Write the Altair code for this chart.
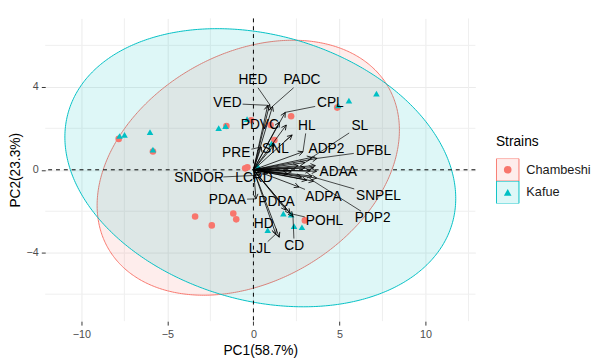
import math
import numpy as np
import pandas as pd
import altair as alt

# ---------------- data ----------------
strains = ["Chambeshi", "Kafue"]

chambeshi_pc1 = [-7.83, -5.84, -1.57, -0.14, 1.00, 2.19, 1.22, -0.48, -0.35, 4.87, -3.39, -2.42, -1.17, -1.00, 2.99]
chambeshi_pc2 = [1.49, 0.88, 2.11, 2.39, 2.16, 2.58, 1.44, 0.07, 0.12, 3.00, -2.25, -2.68, -2.11, -2.39, -2.44]

kafue_pc1 = [-7.78, -7.49, -6.01, -5.84, -2.02, -1.62, -0.37, 1.05, 0.26, 4.93, 5.55, 7.15, 0.83, 1.74, 2.19, 2.36, 2.82]
kafue_pc2 = [1.63, 1.68, 1.82, 0.97, 2.01, 2.11, 2.44, 1.26, 0.17, 3.10, 3.34, 3.67, -2.91, -2.11, -2.16, -2.72, -2.77]

variables = ["HED", "PADC", "VED", "CPL", "PDVC", "HL", "SL", "PRE", "SNL", "ADP2", "DFBL", "ADAA",
             "SNDOR", "LCRD", "ADPA", "SNPEL", "PDAA", "PDPA", "PDP2", "POHL", "HD", "CD", "LJL"]
load_pc1 = [0.94, 1.11, 0.83, 1.85, 1.51, 2.88, 3.40, 0.45, 2.25, 3.00, 3.70, 3.67,
            0.37, 0.83, 2.65, 3.68, 0.15, 1.90, 3.50, 2.14, 1.50, 2.30, 1.30]
load_pc2 = [3.15, 3.06, 3.11, 2.77, 2.30, 0.87, 0.60, 1.10, 1.68, 0.35, 0.55, -0.07,
            -0.26, -0.17, -0.83, -0.40, -1.40, -1.95, -0.55, -2.11, -3.25, -2.25, -3.10]
label_pc1 = [-0.03, 2.82, -1.51, 4.47, 0.37, 3.10, 6.18, -1.00, 1.28, 4.24, 6.98, 4.93,
             -3.16, 0.03, 4.07, 7.27, -1.51, 1.34, 6.93, 4.13, 0.60, 2.37, 0.37]
label_pc2 = [4.31, 4.31, 3.20, 3.20, 2.18, 2.11, 2.11, 0.83, 1.00, 1.00, 0.92, -0.12,
             -0.40, -0.40, -1.30, -1.26, -1.45, -1.54, -2.35, -2.49, -2.63, -3.67, -3.82]

# further loadings crowded in the central bundle (labels hidden in the overlap)
bundle_pc1 = [1.91, 2.60, 3.00, 3.30, 3.50, 3.40, 2.80, 2.20, 3.10, 2.00, 3.60, 1.20]
bundle_pc2 = [2.16, 0.20, 0.10, -0.05, 0.10, -0.30, -0.35, -0.10, -0.50, -0.20, 0.20, 1.20]

# concentration ellipses (centre, semi-axes, rotation in degrees)
ell_cx = [-0.30, 0.40]
ell_cy = [0.10, 0.10]
ell_a = [9.10, 11.50]
ell_b = [5.67, 6.46]
ell_rot = [19.5, -10.9]

x_major = [-10, -5, 0, 5, 10]
x_minor = [-7.5, -2.5, 2.5, 7.5, 12.5]
y_major = [-4, 0, 4]
y_minor = [-6, -2, 2, 6]

# ---------------- layout ----------------
W, H = 439, 309
XDOM = [-12.1, 12.9]
YDOM = [-7.3, 7.3]
kx = W / (XDOM[1] - XDOM[0])
ky = H / (YDOM[1] - YDOM[0])
FONT = "Liberation Sans"
RED, CYAN = "#F8766D", "#00BFC4"

xs = alt.Scale(domain=XDOM, nice=False, zero=False)
ys = alt.Scale(domain=YDOM, nice=False, zero=False)

axis_common = dict(grid=True, gridColor="#EBEBEB", gridWidth=1, domain=False, ticks=True,
                   tickColor="#333333", tickSize=4, labelFontSize=11, labelColor="#4D4D4D",
                   labelFont=FONT, titleFont=FONT, titleFontSize=14, titleFontWeight="normal",
                   titleColor="#000000")
x_axis = alt.Axis(values=x_major, title="PC1(58.7%)", labelPadding=4, titlePadding=4, **axis_common)
y_axis = alt.Axis(values=y_major, title="PC2(23.3%)", labelPadding=3, titlePadding=4, **axis_common)


def X(field):
    return alt.X(field, scale=xs, axis=x_axis)


def Y(field, **kw):
    return alt.Y(field, scale=ys, axis=y_axis, **kw)


# ---------------- tables ----------------
pts_df = pd.DataFrame({
    "strain": [strains[0]] * len(chambeshi_pc1) + [strains[1]] * len(kafue_pc1),
    "PC1": chambeshi_pc1 + kafue_pc1,
    "PC2": chambeshi_pc2 + kafue_pc2,
})

ell_rows = []
for s, cx, cy, a, b, rot in zip(strains, ell_cx, ell_cy, ell_a, ell_b, ell_rot):
    t = math.radians(rot)
    c, sn = math.cos(t), math.sin(t)
    xhalf = math.sqrt(a * a * c * c + b * b * sn * sn)
    A = sn * sn / a ** 2 + c * c / b ** 2
    for phi in np.linspace(0, math.pi, 241):
        u = -xhalf * math.cos(phi)
        B = 2 * u * c * sn * (1 / a ** 2 - 1 / b ** 2)
        C = u * u * (c * c / a ** 2 + sn * sn / b ** 2) - 1
        disc = max(B * B - 4 * A * C, 0.0)
        v1 = (-B + math.sqrt(disc)) / (2 * A)
        v2 = (-B - math.sqrt(disc)) / (2 * A)
        ell_rows.append({"strain": s, "x": cx + u, "yhi": cy + v1, "ylo": cy + v2})
ell_df = pd.DataFrame(ell_rows)

all_pc1 = load_pc1 + bundle_pc1
all_pc2 = load_pc2 + bundle_pc2
arr_df = pd.DataFrame({"x0": [0.0] * len(all_pc1), "y0": [0.0] * len(all_pc1),
                       "x": all_pc1, "y": all_pc2})
arr_df["angle"] = [math.degrees(math.atan2(x * kx, y * ky)) % 360 for x, y in zip(all_pc1, all_pc2)]

lab_df = pd.DataFrame({"var": variables, "x": label_pc1, "y": label_pc2})

lead_rows = []
for v, lx, ly, tx, ty in zip(variables, label_pc1, label_pc2, load_pc1, load_pc2):
    dxp = (tx - lx) * kx
    dyp = (ty - ly) * ky
    hw = len(v) * 9.3 / 2 + 1.5
    hh = 7.5
    ts = []
    if abs(dxp) > 1e-6:
        ts.append(hw / abs(dxp))
    if abs(dyp) > 1e-6:
        ts.append(hh / abs(dyp))
    t0 = min(ts) if ts else 1.0
    dist = math.hypot(dxp, dyp)
    if t0 < 1 and dist * (1 - t0) > 4:
        lead_rows.append({"xs": lx + t0 * (tx - lx), "ys": ly + t0 * (ty - ly), "xe": tx, "ye": ty})
lead_df = pd.DataFrame(lead_rows)

# ---------------- legends ----------------
leg_common = dict(title="Strains", orient="none", legendY=119, clipHeight=23, rowPadding=0,
                  titlePadding=10, labelOffset=7, labelFontSize=13, labelFont=FONT,
                  titleFontSize=14, titleFont=FONT, titleFontWeight="normal", padding=0)
legend_box = alt.Legend(legendX=460, symbolType="square", symbolSize=529, symbolStrokeWidth=1,
                        labelColor="#1A1A1A", titleColor="#000000", **leg_common)
legend_pts = alt.Legend(legendX=465.5, symbolSize=60, symbolStrokeWidth=0,
                        labelColor="rgba(0,0,0,0)", titleColor="rgba(0,0,0,0)", **leg_common)

# ---------------- layers ----------------
xgrid = alt.Chart(pd.DataFrame({"v": x_minor})).mark_rule(color="#EFEFEF", strokeWidth=1).encode(
    x=X("v:Q"))
ygrid = alt.Chart(pd.DataFrame({"v": y_minor})).mark_rule(color="#EFEFEF", strokeWidth=1).encode(
    y=Y("v:Q"))

ellipses = alt.Chart(ell_df).mark_area(strokeWidth=1).encode(
    x=X("x:Q"),
    y=Y("yhi:Q", stack=None),
    y2="ylo:Q",
    fill=alt.Fill("strain:N", scale=alt.Scale(range=["rgba(248,118,109,0.13)", "rgba(0,191,196,0.13)"]),
                  legend=legend_box),
    stroke=alt.Stroke("strain:N", scale=alt.Scale(range=[RED, CYAN]), legend=legend_box),
)

zero_df = pd.DataFrame({"v": [0.0]})
vline = alt.Chart(zero_df).mark_rule(color="black", strokeDash=[4, 4], strokeWidth=1).encode(x=X("v:Q"))
hline = alt.Chart(zero_df).mark_rule(color="black", strokeDash=[4, 4], strokeWidth=1).encode(y=Y("v:Q"))

points = alt.Chart(pts_df).mark_point(filled=True, size=45, opacity=1).encode(
    x=X("PC1:Q"),
    y=Y("PC2:Q"),
    color=alt.Color("strain:N", scale=alt.Scale(range=[RED, CYAN]), legend=legend_pts),
    shape=alt.Shape("strain:N", scale=alt.Scale(range=["circle", "triangle-up"]), legend=legend_pts),
)

arrows = alt.Chart(arr_df).mark_rule(color="black", strokeWidth=0.8).encode(
    x=X("x0:Q"), y=Y("y0:Q"), x2="x:Q", y2="y:Q")
heads = alt.Chart(arr_df).mark_point(shape="M-0.55,1.1L0,0L0.55,1.1", filled=False, size=80,
                                     color="black", strokeWidth=0.8, opacity=1).encode(
    x=X("x:Q"), y=Y("y:Q"), angle=alt.Angle("angle:Q", scale=None))

leaders = alt.Chart(lead_df).mark_rule(color="black", strokeWidth=0.7).encode(
    x=X("xs:Q"), y=Y("ys:Q"), x2="xe:Q", y2="ye:Q")

labels = alt.Chart(lab_df).mark_text(font=FONT, fontSize=14, color="black").encode(
    x=X("x:Q"), y=Y("y:Q"), text="var:N")

chart = alt.layer(xgrid, ygrid, ellipses, vline, hline, points, arrows, heads, leaders, labels).properties(
    width=W, height=H, background="white",
    padding={"left": 0, "top": 6, "right": 0, "bottom": 0},
).configure_view(stroke=None)

chart.save("out.html", embed_options={"renderer": "svg", "actions": False})
